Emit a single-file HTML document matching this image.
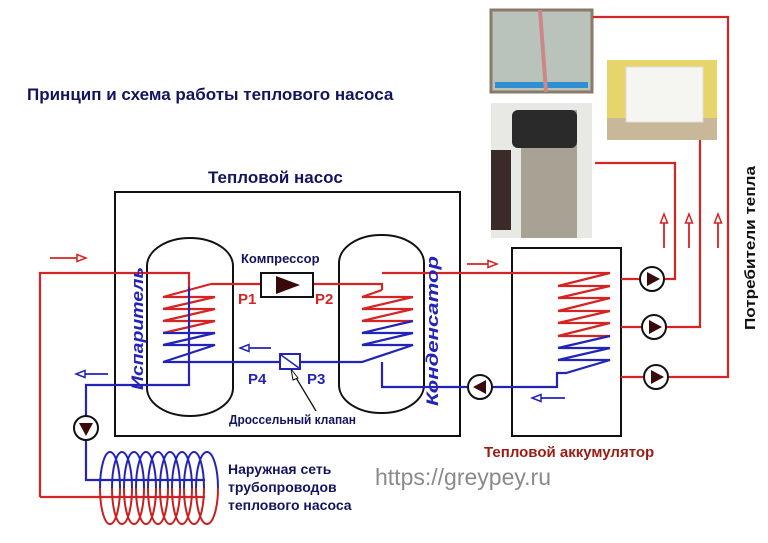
<!DOCTYPE html>
<html><head><meta charset="utf-8"><style>
html,body{margin:0;padding:0;background:#fff;}
svg{display:block;}
text{font-family:"Liberation Sans","DejaVu Sans",sans-serif;font-weight:bold;}
</style></head><body>
<svg width="768" height="543" viewBox="0 0 768 543" xmlns="http://www.w3.org/2000/svg">
<defs>
<marker id="ahr" markerWidth="12" markerHeight="10" refX="10" refY="5" orient="auto" markerUnits="userSpaceOnUse">
<path d="M1,1.5 L10,5 L1,8.5 Z" fill="#fff" stroke="#d42424" stroke-width="1.5"/>
</marker>
<marker id="ahb" markerWidth="12" markerHeight="10" refX="10" refY="5" orient="auto" markerUnits="userSpaceOnUse">
<path d="M1,1.5 L10,5 L1,8.5 Z" fill="#fff" stroke="#2323b8" stroke-width="1.5"/>
</marker>
</defs>
<!-- photos -->
<rect x="491" y="10" width="101" height="82" fill="#b9c3bb"/>
<rect x="491" y="10" width="101" height="82" fill="none" stroke="#8a7a68" stroke-width="3"/>
<path d="M495,82 L588,82 L588,88 L495,88Z" fill="#2f8fd0"/>
<path d="M540,10 L546,92" stroke="#c88" stroke-width="4"/>
<rect x="607" y="60" width="110" height="80" fill="#e6d56a"/>
<rect x="607" y="118" width="110" height="22" fill="#c9b79a"/>
<rect x="626" y="67" width="77" height="55" fill="#f5f5f2" stroke="#ddd"/>
<rect x="491" y="103" width="101" height="135" fill="#e8e8e4"/>
<rect x="521" y="110" width="56" height="128" fill="#a8a294"/>
<rect x="512" y="110" width="65" height="38" rx="6" fill="#2a2a2a"/>
<rect x="491" y="150" width="20" height="80" fill="#3a2a28"/>
<!-- heat pump box -->
<rect x="115" y="192" width="345" height="244" fill="none" stroke="#111" stroke-width="2"/>
<rect x="147" y="238" width="86" height="178" rx="43" ry="28" fill="none" stroke="#111" stroke-width="2"/>
<rect x="339" y="235" width="85" height="178" rx="42" ry="28" fill="none" stroke="#111" stroke-width="2"/>
<!-- accumulator -->
<rect x="512" y="248" width="109" height="188" fill="none" stroke="#111" stroke-width="2"/>
<g fill="none" stroke-width="2.2">
<g stroke="#d42424">
<path d="M40,497 L40,273 L189,273 L189,287"/>
<path d="M211,284 L261,284 M313,284 L382,284 L382,290"/>
<path d="M382,273 L610,273 L558,286 L610,286 L558,298 L610,298 L558,311 L610,311 L558,323 L610,323 L558,336 L610,336"/>
<path d="M211,284 L163,297 L215,297 L163,309 L215,309 L163,321 L215,321 L163,333"/>
<path d="M382,290 L362,297 L413,297 L362,309 L413,309 L362,321 L413,321"/>
<path d="M40,497 L205,497"/>
<path d="M621,279 L640,279 M664,279 L675,279 L675,163 L595,163"/>
<path d="M621,327 L642,327 M666,327 L700,327 L700,140"/>
<path d="M621,377 L644,377 M668,377 L728,377 L728,17 L593,17"/>
</g>
<g stroke="#d42424" stroke-width="1.8">
<path d="M664,248 L664,214" marker-end="url(#ahr)"/>
<path d="M689,248 L689,214" marker-end="url(#ahr)"/>
<path d="M718,248 L718,214" marker-end="url(#ahr)"/>
<path d="M50,258 L86,258" marker-end="url(#ahr)"/>
<path d="M467,264 L497,264" marker-end="url(#ahr)"/>
</g>
<g stroke="#2323b8">
<path d="M163,333 L215,333 L163,345 L215,345 L163,362 L280,362 M300,362 L362,362 L413,345 L362,345 L413,333 L362,333 L413,321"/>
<path d="M189,287 L189,385 L86,385 L86,416"/>
<path d="M382,362 L382,387 L468,387 M492,387 L557,387 L557,373 L566,373 L610,360 L558,360 L610,348 L558,348 L610,336"/>
<path d="M86,440 L86,480 L205,480"/>
</g>
<g stroke="#2323b8" stroke-width="1.8">
<path d="M271,348 L240,348" marker-end="url(#ahb)"/>
<path d="M108,374 L76,374" marker-end="url(#ahb)"/>
<path d="M565,398 L532,398" marker-end="url(#ahb)"/>
</g>
</g>
<!-- ground coil -->
<g fill="none" stroke-width="2">
<g stroke="#2323b8">
<path d="M100,488 A10,36 0 0 1 120,488 M112,488 A10,36 0 0 1 132,488 M124,488 A10,36 0 0 1 144,488 M136,488 A10,36 0 0 1 156,488 M148,488 A10,36 0 0 1 168,488 M160,488 A10,36 0 0 1 180,488 M172,488 A10,36 0 0 1 192,488 M184,488 A10,36 0 0 1 204,488 M196,488 A11,36 0 0 1 218,488"/>
</g>
<g stroke="#c82020">
<path d="M100,488 A10,36 0 0 0 120,488 M112,488 A10,36 0 0 0 132,488 M124,488 A10,36 0 0 0 144,488 M136,488 A10,36 0 0 0 156,488 M148,488 A10,36 0 0 0 168,488 M160,488 A10,36 0 0 0 180,488 M172,488 A10,36 0 0 0 192,488 M184,488 A10,36 0 0 0 204,488 M196,488 A11,36 0 0 0 218,488"/>
</g>
</g>
<!-- compressor -->
<rect x="261" y="273" width="52" height="24" fill="#fff" stroke="#111" stroke-width="2"/>
<path d="M276,276 L300,285 L276,294Z" fill="#3a0a0a"/>
<!-- valve -->
<rect x="280" y="354" width="20" height="15" fill="#fff" stroke="#2323b8" stroke-width="2"/>
<path d="M281,355 L299,368" stroke="#2323b8" stroke-width="1.5"/>
<path d="M292,371 L316,411" stroke="#111" stroke-width="1.3"/>
<path d="M291,369 L298,378 L293,380Z" fill="#fff" stroke="#111" stroke-width="1"/>
<!-- pumps -->
<g stroke="#111" stroke-width="2" fill="#fff">
<circle cx="86" cy="428" r="12"/>
<circle cx="480" cy="387" r="12"/>
<circle cx="652" cy="279" r="12"/>
<circle cx="654" cy="327" r="12"/>
<circle cx="656" cy="377" r="12"/>
</g>
<g fill="#3a0a0a">
<path d="M79,423 L93,423 L86,436Z"/>
<path d="M486,380 L486,394 L473,387Z"/>
<path d="M647,272 L647,286 L660,279Z"/>
<path d="M649,320 L649,334 L662,327Z"/>
<path d="M651,370 L651,384 L664,377Z"/>
</g>
<!-- text -->
<text x="27" y="100" font-size="17" fill="#14145e">Принцип и схема работы теплового насоса</text>
<text x="208" y="183" font-size="17" fill="#14145e">Тепловой насос</text>
<text x="241" y="263" font-size="13" fill="#14145e">Компрессор</text>
<text x="238" y="304" font-size="15" fill="#d42424">P1</text>
<text x="315" y="304" font-size="15" fill="#d42424">P2</text>
<text x="248" y="384" font-size="15" fill="#2323b8">P4</text>
<text x="307" y="384" font-size="15" fill="#2323b8">P3</text>
<text x="229" y="424" font-size="13" fill="#14145e" textLength="127" lengthAdjust="spacingAndGlyphs">Дроссельный клапан</text>
<text transform="translate(143,390) rotate(-90)" font-size="17" font-style="italic" fill="#2323b8" textLength="123" lengthAdjust="spacingAndGlyphs">Испаритель</text>
<text transform="translate(438,406) rotate(-90)" font-size="17" font-style="italic" fill="#2323b8" textLength="150" lengthAdjust="spacingAndGlyphs">Конденсатор</text>
<text x="484" y="457" font-size="15" fill="#9a1c14">Тепловой аккумулятор</text>
<text transform="translate(755,330) rotate(-90)" font-size="15" fill="#111" textLength="164" lengthAdjust="spacingAndGlyphs">Потребители тепла</text>
<text x="228" y="474" font-size="14" fill="#14145e">Наружная сеть</text>
<text x="228" y="492" font-size="14" fill="#14145e">трубопроводов</text>
<text x="228" y="510" font-size="14" fill="#14145e">теплового насоса</text>
<text x="375" y="485" font-size="23" fill="#8a8a8a" style="font-weight:normal">https://greypey.ru</text>
</svg>
</body></html>
